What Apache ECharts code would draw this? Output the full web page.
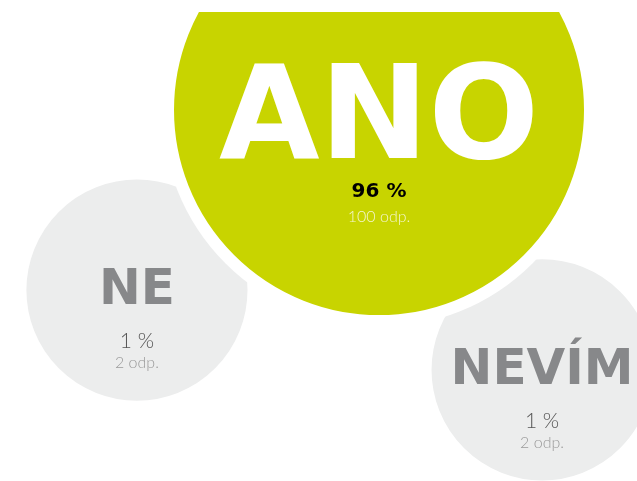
<!DOCTYPE html>
<html>
<head>
<meta charset="utf-8">
<script src="https://cdn.jsdelivr.net/npm/echarts@6/dist/echarts.min.js"></script>
<style>
    html, body { margin: 0; padding: 0; background: #fff; }
    #chart { position: absolute; left: 0; top: 12px; width: 637px; height: 469px; }
</style>
</head>
<body>
<div id="chart"></div>
<script>
(function() {
    'use strict';

    // odpovedi
    var answers = ['ANO', 'NE', 'NEVÍM'];
    var percents = [96, 1, 1];
    var counts = [100, 2, 2];

    // rozmisteni bublin (osa 0-100)
    var posX = [59.5, 21.5, 85.1];
    var posY = [79.1, 40.7, 23.7];

    var LIME = '#c8d400';
    var GREY = '#eceded';

    // velikost bubliny podle poctu odpovedi
    function bubbleSize(n) {
        return 190 + 22 * Math.sqrt(n) + 12;
    }

    function isMain(i) {
        return counts[i] === Math.max.apply(null, counts);
    }

    var order = answers.map(function(a, i) { return i; }).sort(function(a, b) {
        return counts[a] - counts[b];
    });

    var data = order.map(function(i) {
        var main = isMain(i);
        return {
            name : answers[i],
            value : [posX[i], posY[i], counts[i], percents[i]],
            itemStyle : { color : main ? LIME : GREY },
            label : {
                offset : main ? [0, 39] : [0, 23],
                formatter : main
                    ? '{t|' + answers[i] + '}\n{p|' + percents[i] + ' %}\n{o|' + counts[i] + ' odp.}'
                    : '{s|' + answers[i] + '}\n{q|' + percents[i] + ' %}\n{r|' + counts[i] + ' odp.}'
            }
        };
    });

    var chart = echarts.init(document.getElementById('chart'));
    chart.setOption({
        animation : false,
        grid : { left : 0, right : 0, top : 0, bottom : 0 },
        xAxis : { type : 'value', min : 0, max : 100, show : false },
        yAxis : { type : 'value', min : 0, max : 100, show : false },
        series : [{
            type : 'scatter',
            symbol : 'circle',
            symbolSize : function(val) { return bubbleSize(val[2]); },
            clip : false,
            emphasis : { disabled : true },
            itemStyle : { borderColor : '#fff', borderWidth : 12, opacity : 1 },
            label : {
                show : true,
                position : 'inside',
                rich : {
                    t : { fontFamily : 'DejaVu Sans', fontWeight : 'bold', fontSize : 130, color : '#fff', lineHeight : 108, align : 'center' },
                    p : { fontFamily : 'DejaVu Sans', fontWeight : 'bold', fontSize : 20, color : '#000', lineHeight : 28, align : 'center' },
                    o : { fontFamily : 'Lato', fontWeight : 300, fontSize : 16, color : 'rgba(255,255,255,0.8)', lineHeight : 22, align : 'center' },
                    s : { fontFamily : 'DejaVu Sans', fontWeight : 'bold', fontSize : 50, color : '#87888a', lineHeight : 70, align : 'center' },
                    q : { fontFamily : 'Lato', fontWeight : 300, fontSize : 21, color : '#555', lineHeight : 30, align : 'center' },
                    r : { fontFamily : 'Lato', fontWeight : 300, fontSize : 16, color : '#9a9a9a', lineHeight : 14, align : 'center' }
                }
            },
            data : data
        }]
    });
})();
</script>
</body>
</html>
